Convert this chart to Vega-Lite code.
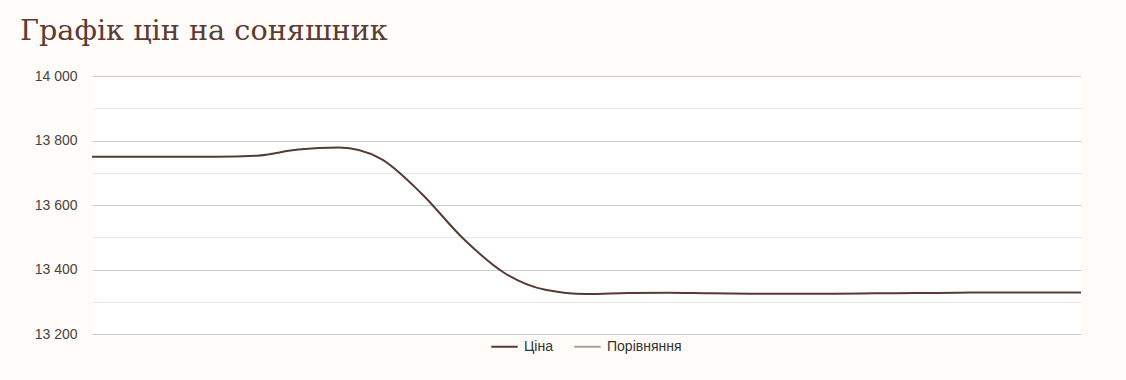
{
  "$schema": "https://vega.github.io/schema/vega-lite/v6.json",
  "width": 989,
  "height": 258,
  "autosize": {"type": "none"},
  "padding": {"left": 92, "top": 76, "right": 45, "bottom": 46},
  "background": "#fffbf8",
  "view": {"fill": "#ffffff", "stroke": null},
  "title": {
    "text": "Графік цін на соняшник",
    "anchor": "start",
    "frame": "group",
    "dx": -72,
    "offset": 23,
    "font": "DejaVu Serif",
    "fontSize": 28.7,
    "fontWeight": "normal",
    "color": "#5a3c35"
  },
  "data": {
    "values": [
      {"i": 0, "price": 13750, "s": "Ціна"},
      {"i": 1, "price": 13750, "s": "Ціна"},
      {"i": 2, "price": 13750, "s": "Ціна"},
      {"i": 3, "price": 13750, "s": "Ціна"},
      {"i": 4, "price": 13753, "s": "Ціна"},
      {"i": 5, "price": 13772, "s": "Ціна"},
      {"i": 6, "price": 13778, "s": "Ціна"},
      {"i": 7, "price": 13744, "s": "Ціна"},
      {"i": 8, "price": 13635, "s": "Ціна"},
      {"i": 9, "price": 13497, "s": "Ціна"},
      {"i": 10, "price": 13390, "s": "Ціна"},
      {"i": 11, "price": 13337, "s": "Ціна"},
      {"i": 12, "price": 13324, "s": "Ціна"},
      {"i": 13, "price": 13327, "s": "Ціна"},
      {"i": 14, "price": 13328, "s": "Ціна"},
      {"i": 15, "price": 13326, "s": "Ціна"},
      {"i": 16, "price": 13325, "s": "Ціна"},
      {"i": 17, "price": 13325, "s": "Ціна"},
      {"i": 18, "price": 13325, "s": "Ціна"},
      {"i": 19, "price": 13326, "s": "Ціна"},
      {"i": 20, "price": 13327, "s": "Ціна"},
      {"i": 21, "price": 13328, "s": "Ціна"},
      {"i": 22, "price": 13329, "s": "Ціна"},
      {"i": 23, "price": 13329, "s": "Ціна"},
      {"i": 24, "price": 13329, "s": "Ціна"}
    ]
  },
  "mark": {"type": "line", "interpolate": "monotone", "strokeWidth": 2},
  "encoding": {
    "x": {
      "field": "i",
      "type": "quantitative",
      "scale": {"domain": [0, 24], "nice": false, "zero": false},
      "axis": null
    },
    "y": {
      "field": "price",
      "type": "quantitative",
      "scale": {"domain": [13200, 14000], "nice": false, "zero": false},
      "axis": {
        "title": null,
        "values": [13200, 13300, 13400, 13500, 13600, 13700, 13800, 13900, 14000],
        "labelExpr": "datum.value % 200 === 0 ? replace(format(datum.value, ','), ',', ' ') : ''",
        "domain": false,
        "ticks": false,
        "labelPadding": 15,
        "labelFont": "Liberation Sans",
        "labelFontSize": 14,
        "labelColor": "#444444",
        "gridColor": {
          "condition": {"test": "datum.value % 200 === 0", "value": "#cccccc"},
          "value": "#e8e8e8"
        },
        "gridWidth": 1
      }
    },
    "color": {
      "field": "s",
      "type": "nominal",
      "scale": {"domain": ["Ціна", "Порівняння"], "range": ["#563a33", "#a3a68c"]},
      "legend": {
        "title": null,
        "orient": "none",
        "legendX": 398,
        "legendY": 256,
        "direction": "horizontal",
        "symbolType": "stroke",
        "symbolSize": 700,
        "symbolStrokeWidth": 2,
        "labelFont": "Liberation Sans",
        "labelFontSize": 14,
        "labelColor": "#333333",
        "labelOffset": 5,
        "columnPadding": 17,
        "padding": 0
      }
    }
  }
}
